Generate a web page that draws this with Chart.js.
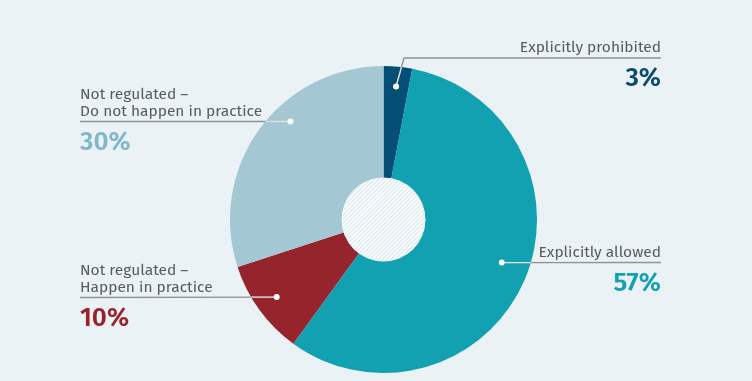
<!DOCTYPE html>
<html><head><meta charset="utf-8">
<script src="https://cdn.jsdelivr.net/npm/chart.js@4.4.0/dist/chart.umd.min.js"></script>
<style>html,body{margin:0;padding:0;background:#eaf2f6;}#wrap{width:752px;height:381px;position:relative;}</style>
</head><body><div id="wrap"><canvas id="c" width="752" height="381"></canvas></div>
<script>
const categories = ["Explicitly prohibited", "Explicitly allowed", "Not regulated – Happen in practice", "Not regulated – Do not happen in practice"];
const labelLines = [["Explicitly prohibited"], ["Explicitly allowed"], ["Not regulated –", "Happen in practice"], ["Not regulated –", "Do not happen in practice"]];
const values = [3, 57, 10, 30];
const valueLabels = ["3%", "57%", "10%", "30%"];
const colors = ["#054e76", "#12a1b1", "#96242c", "#a3c8d4"];
const pctColors = ["#0c4a6e", "#12a1b1", "#9a222c", "#80b8ca"];

// label layout (style): side, text x, leader y, dot angle (deg from top, clockwise), dot radius fraction
const layout = [
  {side: "right", x: 661, lineY: 58, bendX: 404, ang: 5.4, rf: 0.87},
  {side: "right", x: 661, lineY: 262.5, ang: 110, rf: 0.82},
  {side: "left", x: 80, lineY: 297.5, ang: 234, rf: 0.86},
  {side: "left", x: 80, lineY: 121.5, ang: 316.5, rf: 0.88}
];

const FONT = "'Fira Sans', 'Open Sans', sans-serif";

const hatchHole = {
  id: "hatchHole",
  afterDatasetsDraw(chart) {
    const ctx = chart.ctx;
    const arc = chart.getDatasetMeta(0).data[0];
    const cx = arc.x, cy = arc.y, r = arc.innerRadius;
    ctx.save();
    ctx.beginPath(); ctx.arc(cx, cy, r + 0.5, 0, Math.PI * 2);
    ctx.fillStyle = "#ffffff"; ctx.fill();
    ctx.clip();
    ctx.strokeStyle = "#d4e6ec"; ctx.lineWidth = 1.1;
    for (let k = -2 * r; k <= 2 * r; k += 4.2) {
      ctx.beginPath();
      ctx.moveTo(cx - r + k, cy + r);
      ctx.lineTo(cx + r + k, cy - r);
      ctx.stroke();
    }
    ctx.restore();
  }
};

const leaders = {
  id: "leaders",
  afterDraw(chart) {
    const ctx = chart.ctx;
    const arc = chart.getDatasetMeta(0).data[0];
    const cx = arc.x, cy = arc.y, R = arc.outerRadius;
    ctx.save();
    layout.forEach((L, i) => {
      const a = L.ang * Math.PI / 180;
      const dx = cx + R * L.rf * Math.sin(a);
      const dy = cy - R * L.rf * Math.cos(a);
      const y = L.lineY;
      // text
      ctx.fillStyle = "#575b60";
      ctx.font = "15.5px " + FONT;
      ctx.textBaseline = "alphabetic";
      ctx.textAlign = L.side === "right" ? "right" : "left";
      const lines = labelLines[i];
      lines.forEach((t, j) => {
        ctx.fillText(t, L.x, y - 6 - (lines.length - 1 - j) * 17);
      });
      ctx.font = "600 26px " + FONT;
      ctx.fillStyle = pctColors[i];
      ctx.fillText(valueLabels[i], L.x, y + 28);
      // leader line
      ctx.lineWidth = 1.3;
      let pts;
      if (L.bendX !== undefined) pts = [[dx, dy], [L.bendX, y], [L.x, y]];
      else pts = [[dx, dy], [L.x, y]];
      ctx.strokeStyle = "#8e9398";
      ctx.beginPath(); ctx.moveTo(pts[0][0], pts[0][1]);
      for (let k = 1; k < pts.length; k++) ctx.lineTo(pts[k][0], pts[k][1]);
      ctx.stroke();
      ctx.save();
      ctx.beginPath(); ctx.arc(cx, cy, R, 0, Math.PI * 2); ctx.clip();
      ctx.strokeStyle = "rgba(255,255,255,0.75)";
      ctx.beginPath(); ctx.moveTo(pts[0][0], pts[0][1]);
      for (let k = 1; k < pts.length; k++) ctx.lineTo(pts[k][0], pts[k][1]);
      ctx.stroke();
      ctx.restore();
      ctx.fillStyle = "#ffffff";
      ctx.beginPath(); ctx.arc(dx, dy, 3, 0, Math.PI * 2); ctx.fill();
    });
    ctx.restore();
  }
};

new Chart(document.getElementById("c"), {
  type: "doughnut",
  data: {
    labels: categories,
    datasets: [{ data: values, backgroundColor: colors, borderWidth: 0, hoverOffset: 0 }]
  },
  options: {
    responsive: false,
    animation: false,
    cutout: "27%",
    layout: { padding: { top: 66, bottom: 8, left: 15, right: 0 } },
    plugins: { legend: { display: false }, tooltip: { enabled: false } },
    events: []
  },
  plugins: [hatchHole, leaders]
});
</script></body></html>
